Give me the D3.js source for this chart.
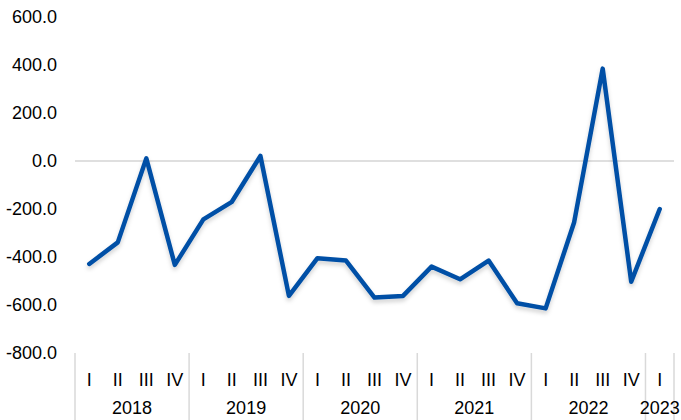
<!DOCTYPE html>
<html><head><meta charset="utf-8">
<script src="https://cdn.jsdelivr.net/npm/d3@7"></script>
<style>body{margin:0;background:#fff}svg{display:block}text{font-family:Arial,"Liberation Sans",sans-serif;fill:#000}</style>
</head><body><svg id="c" width="681" height="420"></svg>
<script>
const years = ["2018","2019","2020","2021","2022","2023"];
const quarters = ["I","II","III","IV"];
const yearQuarterCounts = [4,4,4,4,4,1];
const values = [-429,-339,11,-433,-243,-170,21,-562,-405,-415,-569,-562,-440,-493,-415,-593,-614,-255,385,-503,-200];
const yTicks = [600,400,200,0,-200,-400,-600,-800];

(function(){
const cats = [];
years.forEach((yr,i)=>{for(let q=0;q<yearQuarterCounts[i];q++) cats.push({year:yr,q:quarters[q],key:yr+"-"+quarters[q]});});

const svg = d3.select("#c");
const mLeft=75, mRight=674, mTop=17, mBottom=353;
const fs = 18;
const x = d3.scaleBand().domain(cats.map(d=>d.key)).range([mLeft,mRight]);
const y = d3.scaleLinear().domain([-800,600]).range([mBottom,mTop]);
const fmt = d3.formatLocale({decimal:".",thousands:",",grouping:[3],currency:["",""],minus:"-"}).format(".1f");

const defs = svg.append("defs");
const f = defs.append("filter").attr("id","sh").attr("x","-10%").attr("y","-10%").attr("width","120%").attr("height","130%");
f.append("feDropShadow").attr("dx",0).attr("dy",3).attr("stdDeviation",2).attr("flood-color","#000").attr("flood-opacity",0.18);

svg.append("g").selectAll("text").data(yTicks).join("text")
  .attr("x",57).attr("y",d=>y(d)).attr("dy","0.36em").attr("text-anchor","end")
  .attr("font-size",fs).text(d=>fmt(d));

svg.append("line").attr("x1",mLeft).attr("x2",mRight).attr("y1",y(0)).attr("y2",y(0))
  .attr("stroke","#d4d4d4").attr("stroke-width",1.5);

let idx=0; const seps=[0];
yearQuarterCounts.forEach(c=>{idx+=c; seps.push(idx);});
const sx = d=>d<cats.length?x(cats[d].key):mRight;
svg.append("g").selectAll("line").data(seps).join("line")
  .attr("x1",sx).attr("x2",sx)
  .attr("y1",mBottom).attr("y2",420).attr("stroke","#d9d9d9").attr("stroke-width",1.5);

svg.append("g").selectAll("text").data(cats).join("text")
  .attr("x",d=>x(d.key)+x.bandwidth()/2).attr("y",386).attr("text-anchor","middle")
  .attr("font-size",fs).text(d=>d.q);

let start=0;
years.forEach((yr,i)=>{
  const a=x(cats[start].key), b=x(cats[start+yearQuarterCounts[i]-1].key)+x.bandwidth();
  svg.append("text").attr("x",(a+b)/2).attr("y",414).attr("text-anchor","middle").attr("font-size",fs).text(yr);
  start+=yearQuarterCounts[i];
});

const line = d3.line().x((d,i)=>x(cats[i].key)+x.bandwidth()/2).y(d=>y(d));
svg.append("path").datum(values).attr("d",line).attr("fill","none")
  .attr("stroke","#0050a6").attr("stroke-width",4.5).attr("stroke-linejoin","round").attr("stroke-linecap","round")
  .attr("filter","url(#sh)");
})();
</script></body></html>
